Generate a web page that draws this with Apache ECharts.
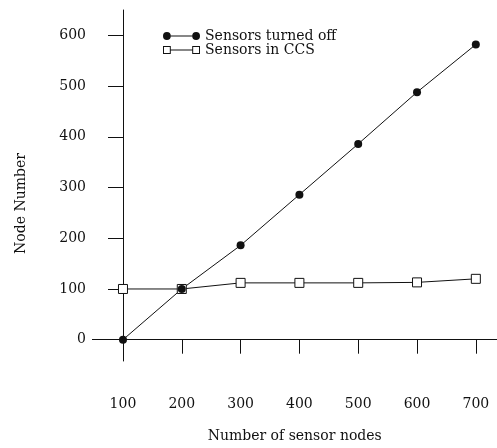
<!DOCTYPE html>
<html>
<head>
<meta charset="utf-8">
<script src="https://cdn.jsdelivr.net/npm/echarts@6/dist/echarts.min.js"></script>
<style>
  html, body { margin: 0; padding: 0; background: #fff; }
  #chart { width: 497px; height: 448px; }
</style>
</head>
<body>
<div id="chart"></div>
<script>
// values
var sensorNodes = [100, 200, 300, 400, 500, 600, 700];
var turnedOff = [0, 100, 186, 286, 386, 488, 582];
var inCCS = [100, 100, 112, 112, 112, 113, 120];
var xTicks = [100, 200, 300, 400, 500, 600, 700];
var yTicks = [0, 100, 200, 300, 400, 500, 600];

var font = 'DejaVu Serif';
var ink = '#111';

function pairs(xs, ys) {
  return xs.map(function (x, i) { return [x, ys[i]]; });
}

// legend icons: marker - line - marker
var dotIcon = 'path://M0,4A4,4 0 1,0 8,4A4,4 0 1,0 0,4Z M30,4A4,4 0 1,0 38,4A4,4 0 1,0 30,4Z M8,3.5L30,3.5L30,4.5L8,4.5Z';
var boxIcon = 'path://M0,0L8,0L8,8L0,8Z M1,1L1,7L7,7L7,1Z M30,0L38,0L38,8L30,8Z M31,1L31,7L37,7L37,1Z M8,3.5L30,3.5L30,4.5L8,4.5Z';

var chart = echarts.init(document.getElementById('chart'));
chart.setOption({
  animation: false,
  grid: { left: 92.4, right: 0, top: 10, bottom: 63.25 },
  legend: {
    orient: 'vertical',
    left: 163,
    top: 29,
    padding: 0,
    itemWidth: 37,
    itemHeight: 8,
    itemGap: 0,
    textStyle: { fontFamily: font, fontSize: 14, lineHeight: 14, color: ink },
    data: [
      { name: 'Sensors turned off', icon: dotIcon, itemStyle: { color: ink, borderWidth: 0 } },
      { name: 'Sensors in CCS', icon: boxIcon, itemStyle: { color: ink, borderWidth: 0 } }
    ]
  },
  xAxis: {
    type: 'value',
    min: 48,
    max: 736,
    name: 'Number of sensor nodes',
    nameLocation: 'middle',
    nameGap: 68,
    nameTextStyle: { fontFamily: font, fontSize: 14, color: ink, verticalAlign: 'top' },
    splitLine: { show: false },
    axisLine: { onZero: true, lineStyle: { color: ink, width: 1 } },
    axisTick: { length: 14, customValues: xTicks, lineStyle: { color: ink } },
    axisLabel: { margin: 36, customValues: xTicks, fontFamily: font, fontSize: 14, color: ink }
  },
  yAxis: {
    type: 'value',
    min: -42,
    max: 650,
    offset: -30.6,
    name: 'Node Number',
    nameLocation: 'middle',
    nameGap: 95,
    nameRotate: 90,
    nameTextStyle: { fontFamily: font, fontSize: 14, color: ink, padding: [0, 36, 0, 0] },
    splitLine: { show: false },
    axisLine: { onZero: false, lineStyle: { color: ink, width: 1 } },
    axisTick: { length: 15, customValues: yTicks, lineStyle: { color: ink } },
    axisLabel: { margin: 37, customValues: yTicks, fontFamily: font, fontSize: 14, color: ink }
  },
  series: [
    {
      name: 'Sensors in CCS',
      type: 'line',
      data: pairs(sensorNodes, inCCS),
      symbol: 'rect',
      symbolSize: 9,
      lineStyle: { color: ink, width: 1 },
      itemStyle: { color: '#fff', borderColor: ink, borderWidth: 1 }
    },
    {
      name: 'Sensors turned off',
      type: 'line',
      data: pairs(sensorNodes, turnedOff),
      symbol: 'circle',
      symbolSize: 8,
      lineStyle: { color: ink, width: 1 },
      itemStyle: { color: ink }
    }
  ]
});
</script>
</body>
</html>
